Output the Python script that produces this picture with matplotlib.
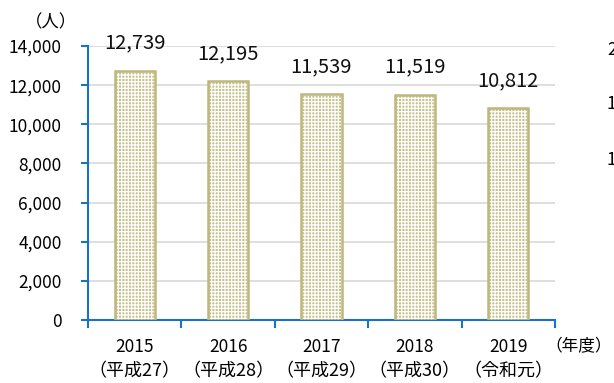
import matplotlib.pyplot as plt

plt.rcParams['font.family'] = ['Noto Sans CJK JP', 'DejaVu Sans']

# 年度別の人数
years = ['2015', '2016', '2017', '2018', '2019']
eras = ['（平成27）', '（平成28）', '（平成29）', '（平成30）', '（令和元）']
counts = [12739, 12195, 11539, 11519, 10812]
yticks = [0, 2000, 4000, 6000, 8000, 10000, 12000, 14000]

olive = '#bdb77a'
fill = '#c6c08a'
blue = '#1a72c4'

fig = plt.figure(figsize=(6.14, 3.83), dpi=100)
ax = fig.add_axes([88 / 614, 1 - 320 / 383, (555 - 88) / 614, (320 - 46) / 383])

x = range(len(years))
w = 0.43
# 下地 -> 白い網点 -> 枠線 の順で重ねる
ax.bar(x, counts, width=w, color=fill, linewidth=0, zorder=2)
plt.rcParams['hatch.linewidth'] = 0.9
ax.bar(x, counts, width=w, color='none', edgecolor='white', hatch='+++++',
       linewidth=0, zorder=3)
ax.bar(x, counts, width=w, color='none', edgecolor=olive, linewidth=1.8, zorder=4)

for i, v in enumerate(counts):
    ax.annotate(f'{v:,}', (i, v), xytext=(0, 20), textcoords='offset points',
                ha='center', va='center', fontsize=14.5, color='#111111',
                annotation_clip=False)

ax.set_xlim(-0.5, 4.5)
ax.set_ylim(0, 14000)
ax.set_yticks(yticks)
ax.set_yticklabels([f'{t:,}' for t in yticks], fontsize=12.5)
ax.yaxis.grid(True, color='#d9d9d9', linewidth=1.2, zorder=0)
ax.set_axisbelow(True)

ax.set_xticks([i - 0.5 for i in range(len(years) + 1)])
ax.set_xticklabels([])
ax.tick_params(axis='x', direction='out', length=6, width=1.5, color=blue)
ax.tick_params(axis='y', direction='out', length=5, width=1.5, color=blue, pad=14)
for i in x:
    ax.text(i, -0.1, years[i], transform=ax.get_xaxis_transform(),
            ha='center', va='center', fontsize=12.5)
    ax.text(i, -0.187, eras[i], transform=ax.get_xaxis_transform(),
            ha='center', va='center', fontsize=13)
ax.text(545 / 614, 1 - 347 / 383, '（年度）', ha='left', va='center',
        fontsize=12, transform=fig.transFigure)

for s in ['top', 'right']:
    ax.spines[s].set_visible(False)
for s in ['left', 'bottom']:
    ax.spines[s].set_color(blue)
    ax.spines[s].set_linewidth(1.5)

fig.text(51 / 614, 1 - 22 / 383, '（人）', ha='center', va='center', fontsize=12.5)

# 右隣のグラフの目盛り
for yy, s in [(50, '20,000'), (104, '15,000'), (160, '10,000')]:
    fig.text(607 / 614, 1 - yy / 383, s, ha='left', va='center', fontsize=12.5)

fig.savefig('out.png', dpi=100)
